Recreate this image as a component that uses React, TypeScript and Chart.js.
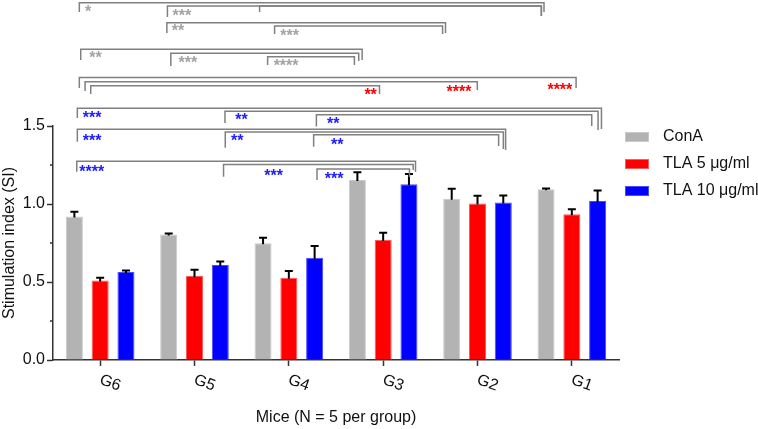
import React, { useEffect, useRef } from 'react';
import { Chart, registerables } from 'chart.js';

Chart.register(...registerables);

const FONT = '"Liberation Sans", Arial, Helvetica, sans-serif';

const groups = ['G6', 'G5', 'G4', 'G3', 'G2', 'G1'];
const seriesNames = ['ConA', 'TLA 5 μg/ml', 'TLA 10 μg/ml'];

const conA = [0.92, 0.805, 0.748, 1.154, 1.034, 1.094];
const conAErr = [0.03, 0.006, 0.036, 0.05, 0.064, 0.006];
const tla5 = [0.51, 0.538, 0.528, 0.769, 1.004, 0.934];
const tla5Err = [0.017, 0.04, 0.042, 0.047, 0.049, 0.032];
const tla10 = [0.564, 0.609, 0.656, 1.126, 1.01, 1.019];
const tla10Err = [0.01, 0.022, 0.075, 0.066, 0.045, 0.068];

const yMinorTicks = [0.25, 0.75, 1.25];

// significance brackets: [from, to, top, dropLeft, dropRight]
// from/to are category positions (0 = G6 ... 5 = G1), the rest are SI values
const greyBrackets = [
  [-0.221, 4.705, 2.29, 2.231, 2.231],
  [0.713, 4.677, 2.269, 2.199, 2.205],
  [1.69, 4.677, 2.269, 2.231, 2.205],
  [0.707, 3.661, 2.162, 2.096, 2.096],
  [1.849, 3.63, 2.141, 2.09, 2.09],
  [-0.206, 2.777, 1.992, 1.923, 1.923],
  [0.749, 2.741, 1.966, 1.885, 1.917],
  [1.775, 2.695, 1.944, 1.891, 1.891],
];
const redBrackets = [
  [-0.221, 5.045, 1.811, 1.744, 1.744],
  [-0.16, 3.998, 1.784, 1.724, 1.731],
  [-0.1, 2.961, 1.758, 1.705, 1.705],
];
const blueBrackets = [
  [-0.242, 5.314, 1.613, 1.551, 1.481],
  [1.323, 5.278, 1.594, 1.519, 1.474],
  [2.292, 5.211, 1.572, 1.496, 1.5],
  [-0.242, 4.298, 1.479, 1.399, 1.346],
  [1.326, 4.274, 1.462, 1.361, 1.353],
  [2.263, 4.224, 1.444, 1.367, 1.372],
  [-0.248, 3.343, 1.274, 1.207, 1.207],
  [1.308, 3.318, 1.253, 1.175, 1.218],
  [2.299, 3.279, 1.224, 1.154, 1.173],
];

// star labels: [category position, SI value, text]
const greyStars: [number, number, string][] = [
  [-0.16, 2.254, '*'],
  [0.766, 2.233, '***'],
  [0.76, 2.137, '**'],
  [1.91, 2.104, '***'],
  [-0.115, 1.96, '**'],
  [0.83, 1.928, '***'],
  [1.839, 1.908, '****'],
];
const redStars: [number, number, string][] = [
  [4.741, 1.758, '****'],
  [3.672, 1.742, '****'],
  [2.801, 1.724, '**'],
];
const blueStars: [number, number, string][] = [
  [-0.185, 1.577, '***'],
  [1.432, 1.564, '**'],
  [2.405, 1.538, '**'],
  [-0.185, 1.428, '***'],
  [1.386, 1.431, '**'],
  [2.448, 1.404, '**'],
  [-0.221, 1.229, '****'],
  [1.74, 1.207, '***'],
  [2.38, 1.186, '***'],
];

const fills = ['#b3b3b3', '#ff0000', '#0000ff'];
const edges = ['#c9c9c9', '#ff5a5a', '#4a4aff'];
const starColors = ['#a3a3a3', '#ff0000', '#1c1cff'];

const errorBars = {
  id: 'errorBars',
  afterDatasetsDraw(chart: any) {
    const { ctx } = chart;
    const ys = chart.scales.y;
    ctx.save();
    ctx.strokeStyle = '#000';
    ctx.lineWidth = 2;
    chart.data.datasets.forEach((ds: any, di: number) => {
      const meta = chart.getDatasetMeta(di);
      meta.data.forEach((bar: any, i: number) => {
        const yTop = ys.getPixelForValue(ds.data[i] + ds.errors[i]);
        const yVal = ys.getPixelForValue(ds.data[i]);
        ctx.beginPath();
        ctx.moveTo(bar.x, yVal + 1);
        ctx.lineTo(bar.x, yTop);
        ctx.moveTo(bar.x - 4, yTop);
        ctx.lineTo(bar.x + 4, yTop);
        ctx.stroke();
      });
    });
    ctx.restore();
  },
};

const annotations = {
  id: 'annotations',
  afterDraw(chart: any) {
    const { ctx, chartArea } = chart;
    const xs = chart.scales.x;
    const ys = chart.scales.y;
    ctx.save();

    // minor y ticks
    ctx.strokeStyle = '#333';
    ctx.lineWidth = 1.5;
    yMinorTicks.forEach((v) => {
      const y = ys.getPixelForValue(v);
      ctx.beginPath();
      ctx.moveTo(chartArea.left - 3, y);
      ctx.lineTo(chartArea.left, y);
      ctx.stroke();
    });

    // rotated category labels
    ctx.fillStyle = '#111';
    ctx.font = `16px ${FONT}`;
    ctx.textAlign = 'center';
    ctx.textBaseline = 'middle';
    groups.forEach((g, i) => {
      const x = xs.getPixelForValue(i);
      ctx.save();
      ctx.translate(x + 10, chartArea.bottom + 23);
      ctx.rotate((20 * Math.PI) / 180);
      ctx.fillText(g, 0, 0);
      ctx.restore();
    });

    // brackets
    ctx.strokeStyle = '#808080';
    ctx.lineWidth = 1.5;
    [greyBrackets, redBrackets, blueBrackets].forEach((set) => {
      set.forEach(([from, to, top, dl, dr]) => {
        const x1 = xs.getPixelForValue(from);
        const x2 = xs.getPixelForValue(to);
        ctx.beginPath();
        ctx.moveTo(x1, ys.getPixelForValue(dl));
        ctx.lineTo(x1, ys.getPixelForValue(top));
        ctx.lineTo(x2, ys.getPixelForValue(top));
        ctx.lineTo(x2, ys.getPixelForValue(dr));
        ctx.stroke();
      });
    });

    // stars
    ctx.font = `bold 16px ${FONT}`;
    ctx.textAlign = 'left';
    ctx.textBaseline = 'alphabetic';
    [greyStars, redStars, blueStars].forEach((set, si) => {
      ctx.fillStyle = starColors[si];
      set.forEach(([cx, v, text]) => {
        ctx.fillText(text, xs.getPixelForValue(cx), ys.getPixelForValue(v) + 9);
      });
    });

    // legend
    ctx.font = `16px ${FONT}`;
    ctx.textBaseline = 'middle';
    chart.data.datasets.forEach((ds: any, di: number) => {
      const y = chartArea.top + 11 + di * 27;
      const x = chartArea.right + 6;
      ctx.fillStyle = ds.backgroundColor;
      ctx.fillRect(x, y - 5, 24, 10);
      ctx.strokeStyle = ds.borderColor;
      ctx.lineWidth = 1;
      ctx.strokeRect(x + 0.5, y - 4.5, 23, 9);
      ctx.fillStyle = '#111';
      ctx.fillText(ds.label, x + 38, y);
    });

    ctx.restore();
  },
};

const StimulationChart: React.FC = () => {
  const canvasRef = useRef<HTMLCanvasElement | null>(null);

  useEffect(() => {
    if (!canvasRef.current) return;
    const ctx = canvasRef.current.getContext('2d');
    if (!ctx) return;

    const values = [conA, tla5, tla10];
    const errors = [conAErr, tla5Err, tla10Err];

    const chart = new Chart(ctx, {
      type: 'bar',
      data: {
        labels: groups,
        datasets: seriesNames.map((name, i) => ({
          label: name,
          data: values[i],
          errors: errors[i],
          backgroundColor: fills[i],
          borderColor: edges[i],
          borderWidth: 1,
          categoryPercentage: 0.82,
          barPercentage: 0.66,
        })) as any,
      },
      options: {
        animation: false,
        responsive: false,
        layout: { padding: { top: 126, right: 139, bottom: 0, left: 0 } },
        plugins: {
          legend: { display: false },
          tooltip: { enabled: false },
        },
        scales: {
          x: {
            afterFit: (s: any) => {
              s.height = 69;
            },
            ticks: { display: false },
            grid: {
              offset: false,
              drawOnChartArea: false,
              tickLength: 6,
              tickColor: '#333',
              tickWidth: 1.5,
            },
            border: { color: '#333', width: 1.5 },
            title: {
              display: true,
              text: 'Mice (N = 5 per group)',
              color: '#111',
              font: { family: FONT, size: 16 },
              padding: { top: 4, bottom: 2 },
            },
          },
          y: {
            min: 0,
            max: 1.5,
            afterFit: (s: any) => {
              s.width = 53;
            },
            ticks: {
              stepSize: 0.5,
              padding: 2,
              color: '#111',
              font: { family: FONT, size: 16 },
              callback: (v: any) => Number(v).toFixed(1),
            },
            grid: {
              drawOnChartArea: false,
              tickLength: 6,
              tickColor: '#333',
              tickWidth: 1.5,
            },
            border: { color: '#333', width: 1.5 },
            title: {
              display: true,
              text: 'Stimulation index (SI)',
              color: '#111',
              font: { family: FONT, size: 16 },
              padding: { top: 0, bottom: 0 },
            },
          },
        },
      },
      plugins: [errorBars, annotations],
    });

    return () => chart.destroy();
  }, []);

  return (
    <div style={{ position: 'absolute', left: 0, top: 0, width: 758, height: 429, background: '#fff' }}>
      <canvas ref={canvasRef} width={758} height={429} />
    </div>
  );
};

export default function App() {
  return <StimulationChart />;
}
